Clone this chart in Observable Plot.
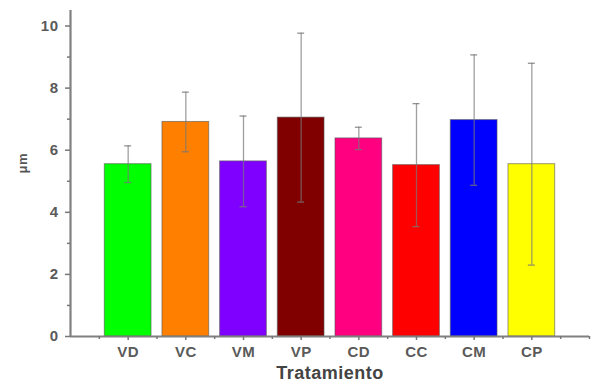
<!DOCTYPE html>
<html>
<head>
<meta charset="utf-8">
<script src="https://cdn.jsdelivr.net/npm/d3@7"></script>
<script src="https://cdn.jsdelivr.net/npm/@observablehq/plot@0.6"></script>
<style>
  html, body { margin: 0; padding: 0; background: #fff; }
  svg { display: block; }
</style>
</head>
<body>
<div id="chart"></div>
<script>
// Treatment groups, mean sizes (μm) and their error (± SD)
const treatments = ["VD", "VC", "VM", "VP", "CD", "CC", "CM", "CP"];
const means = [5.55, 6.91, 5.64, 7.05, 6.38, 5.52, 6.97, 5.55];
const errors = [0.59, 0.96, 1.46, 2.72, 0.36, 1.98, 2.10, 3.25];
const colors = ["#00ff00", "#ff8000", "#8000ff", "#800000", "#ff0080", "#ff0000", "#0000ff", "#ffff00"];
const yTicks = [0, 2, 4, 6, 8, 10];
const yMinorTicks = [1, 3, 5, 7, 9];
const xMinorTicks = [0.5, 1.5, 2.5, 3.5, 4.5, 5.5, 6.5, 7.5, 8.5, 9];

// Each treatment sits at a whole-number position on the x axis
const rows = treatments.map((t, i) => ({
  name: t,
  pos: i + 1,
  mean: means[i],
  err: errors[i],
  color: colors[i]
}));

const half = 0.405;   // half bar width, in x units
const cap = 0.06;     // half error-bar cap width
const blank = () => "";

const chart = Plot.plot({
  width: 594,
  height: 389,
  marginLeft: 70,
  marginRight: 5,
  marginTop: 10,
  marginBottom: 53,
  style: {fontFamily: "'Liberation Sans', Arial, sans-serif", background: "#fff"},
  x: {domain: [0, 9]},
  y: {domain: [0, 10.5]},
  marks: [
    Plot.rectY(rows, {
      x1: d => d.pos - half,
      x2: d => d.pos + half,
      y1: 0,
      y2: "mean",
      fill: "color",
      stroke: "#555",
      strokeOpacity: 0.6,
      strokeWidth: 1
    }),
    // error bars
    Plot.ruleX(rows, {
      x: "pos",
      y1: d => d.mean - d.err,
      y2: d => d.mean + d.err,
      stroke: "#777",
      strokeOpacity: 0.7,
      strokeWidth: 1.3
    }),
    Plot.ruleY(rows, {
      y: d => d.mean + d.err,
      x1: d => d.pos - cap,
      x2: d => d.pos + cap,
      stroke: "#777",
      strokeOpacity: 0.8,
      strokeWidth: 1.3
    }),
    Plot.ruleY(rows, {
      y: d => d.mean - d.err,
      x1: d => d.pos - cap,
      x2: d => d.pos + cap,
      stroke: "#777",
      strokeOpacity: 0.8,
      strokeWidth: 1.3
    }),
    // axis lines
    Plot.ruleX([0], {stroke: "#808080", strokeWidth: 2.2}),
    Plot.ruleY([0], {stroke: "#808080", strokeWidth: 2.2}),
    // y axis: major ticks with labels, minor ticks without
    Plot.axisY({
      ticks: yTicks,
      tickSize: 5,
      tickPadding: 7,
      stroke: "#777",
      strokeWidth: 1.5,
      fontSize: 15,
      fontWeight: "bold",
      fill: "#5a5a5a",
      label: null
    }),
    Plot.axisY({
      ticks: yMinorTicks,
      tickSize: 3,
      tickFormat: blank,
      stroke: "#777",
      strokeWidth: 1.5,
      label: null
    }),
    // x axis: treatment names at whole positions, minor ticks between them
    Plot.axisX({
      ticks: rows.map(d => d.pos),
      tickFormat: p => treatments[p - 1],
      tickSize: 4,
      tickPadding: 6,
      stroke: "#777",
      strokeWidth: 1.5,
      fontSize: 15,
      fontWeight: "bold",
      fill: "#5a5a5a",
      label: null
    }),
    Plot.axisX({
      ticks: xMinorTicks,
      tickSize: 3,
      tickFormat: blank,
      stroke: "#777",
      strokeWidth: 1.5,
      label: null
    }),
    // axis titles
    Plot.text(["μm"], {
      frameAnchor: "left",
      dx: -48,
      rotate: -90,
      fontSize: 13,
      fill: "#555",
      fontWeight: "bold"
    }),
    Plot.text(["Tratamiento"], {
      frameAnchor: "bottom",
      dy: 42,
      fontSize: 18,
      fontWeight: "bold",
      fill: "#444"
    })
  ]
});

d3.select(chart).selectAll("text").style("letter-spacing", "0.5px");
document.getElementById("chart").appendChild(chart);
</script>
</body>
</html>
